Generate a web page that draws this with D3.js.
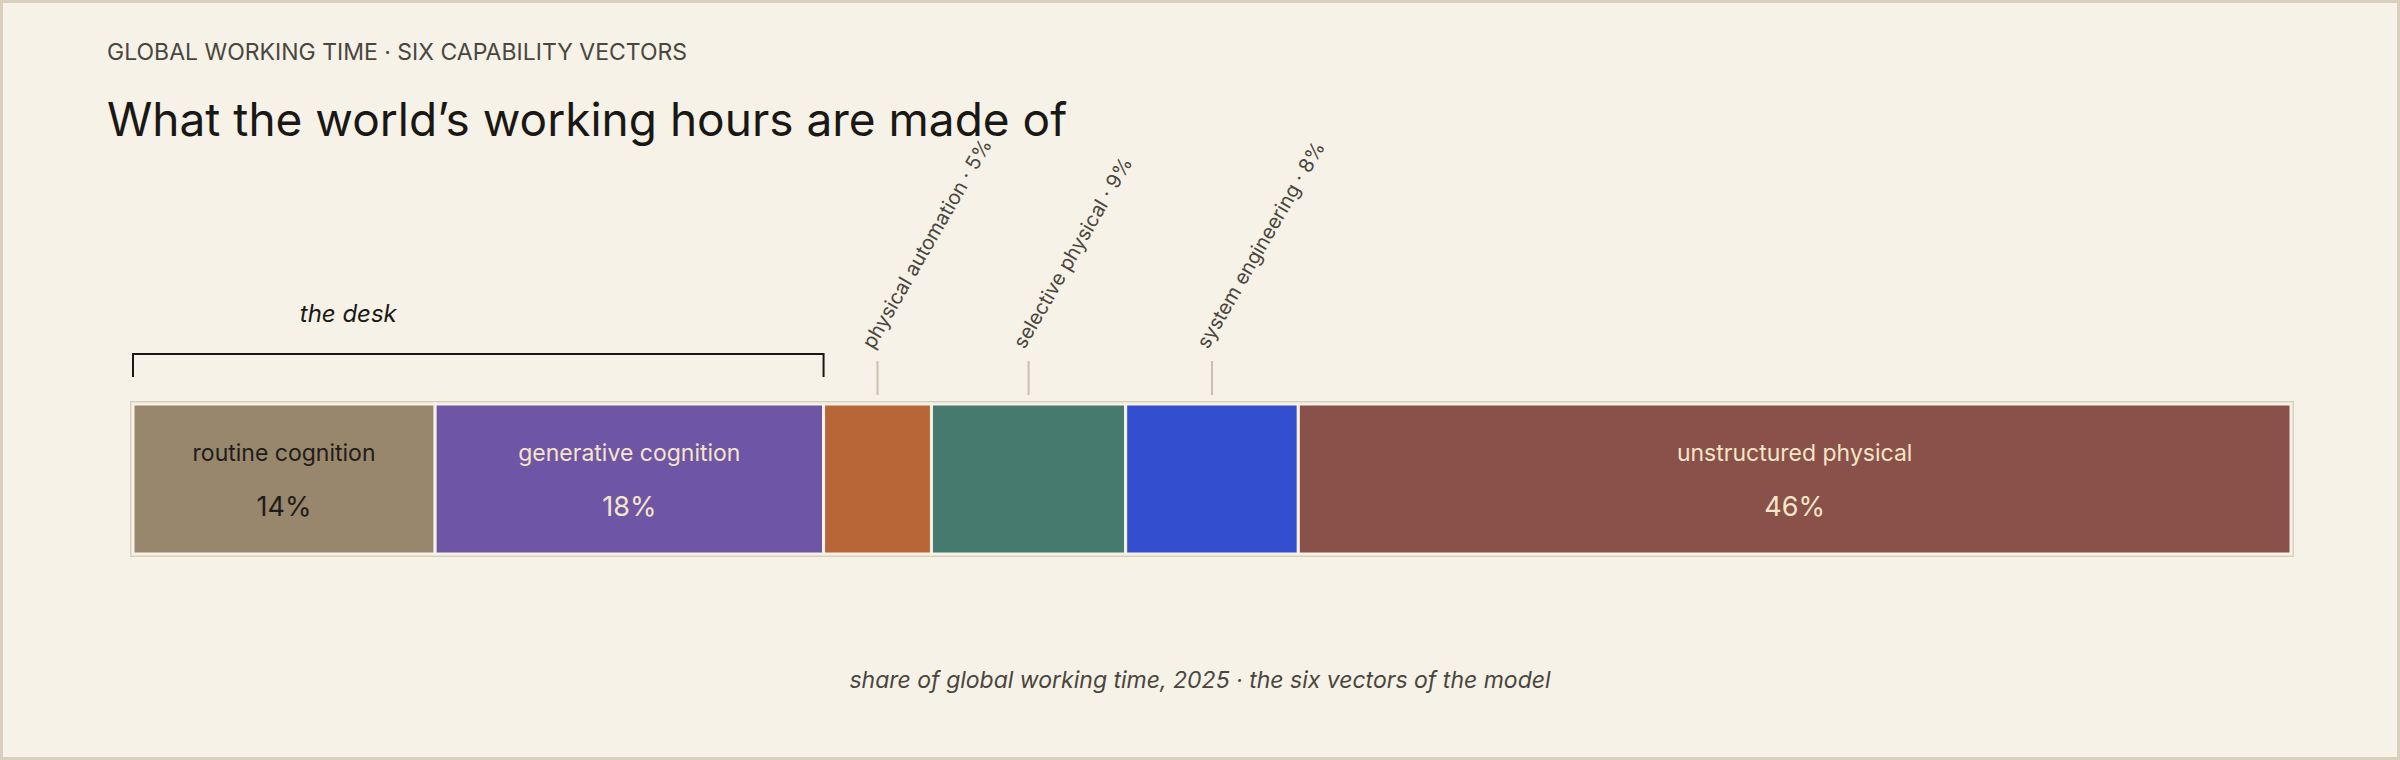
<!DOCTYPE html>
<html>
<head>
<meta charset="utf-8">
<title>What the world's working hours are made of</title>
<script src="https://cdn.jsdelivr.net/npm/d3@7"></script>
<style>
  html, body { margin: 0; padding: 0; background: #f6f2e7; }
  svg { display: block; font-family: Inter, "Noto Sans", sans-serif; }
</style>
</head>
<body>
<div id="chart"></div>
<script>
// data
var categories = ["routine cognition", "generative cognition", "physical automation",
                  "selective physical", "system engineering", "unstructured physical"];
var shares = [14, 18, 5, 9, 8, 46];
var colors = ["#98876c", "#6e55a6", "#b86637", "#477a6e", "#334fcf", "#8a514a"];
var textColors = ["#1f1d1a", "#f5e6c8", "#f5e6c8", "#f5e6c8", "#f5e6c8", "#f5e6c8"];
var insideLabel = [true, true, false, false, false, true];
var deskGroup = ["routine cognition", "generative cognition"];

var W = 2400, H = 760;
var svg = d3.select("#chart").append("svg").attr("width", W).attr("height", H);

svg.append("rect").attr("x", 1.5).attr("y", 1.5).attr("width", W - 3).attr("height", H - 3)
    .attr("fill", "#f6f2e7").attr("stroke", "#d8d0bc").attr("stroke-width", 3);

svg.append("text").attr("x", 107).attr("y", 60).attr("font-size", 23).attr("fill", "#4a463e")
    .text("GLOBAL WORKING TIME · SIX CAPABILITY VECTORS");
svg.append("text").attr("x", 107).attr("y", 136).attr("font-size", 46).attr("fill", "#1a1814")
    .text("What the world’s working hours are made of");

var barTop = 404, barH = 150;
var data = categories.map(function (c, i) { return {name: c, value: shares[i], i: i}; });
var cum = 0;
data.forEach(function (d) { d.x0 = cum; cum += d.value; d.x1 = cum; });

var x = d3.scaleLinear().domain([0, cum]).range([133, 2291]);

svg.append("rect").attr("x", x(0) - 1.5).attr("y", barTop - 1.5)
    .attr("width", x(cum) - x(0) + 3).attr("height", barH + 3)
    .attr("fill", "none").attr("stroke", "#d8d0bc").attr("stroke-width", 3);

var seg = svg.selectAll("g.seg").data(data).enter().append("g").attr("class", "seg");
seg.append("rect")
    .attr("x", function (d) { return x(d.x0); })
    .attr("y", barTop)
    .attr("width", function (d) { return x(d.x1) - x(d.x0); })
    .attr("height", barH)
    .attr("fill", function (d) { return colors[d.i]; })
    .attr("stroke", "#f6f2e7").attr("stroke-width", 3);

var inside = seg.filter(function (d) { return insideLabel[d.i]; });
inside.append("text")
    .attr("x", function (d) { return (x(d.x0) + x(d.x1)) / 2; })
    .attr("y", barTop + 57).attr("text-anchor", "middle").attr("font-size", 23)
    .attr("fill", function (d) { return textColors[d.i]; })
    .text(function (d) { return d.name; });
inside.append("text")
    .attr("x", function (d) { return (x(d.x0) + x(d.x1)) / 2; })
    .attr("y", barTop + 112).attr("text-anchor", "middle").attr("font-size", 27)
    .attr("fill", function (d) { return textColors[d.i]; })
    .text(function (d) { return d.value + "%"; });

// callouts for narrow segments
var outside = data.filter(function (d) { return !insideLabel[d.i]; });
var call = svg.selectAll("g.call").data(outside).enter().append("g").attr("class", "call")
    .attr("transform", function (d) { return "translate(" + ((x(d.x0) + x(d.x1)) / 2) + ",0)"; });
call.append("line").attr("x1", 0).attr("x2", 0).attr("y1", 361).attr("y2", 395)
    .attr("stroke", "#c9c2b2").attr("stroke-width", 2);
call.append("text")
    .attr("transform", "translate(-4,350) rotate(-60)")
    .attr("font-size", 20).attr("fill", "#4a463e")
    .text(function (d) { return d.name + " · " + d.value + "%"; });

// desk bracket
var deskData = data.filter(function (d) { return deskGroup.indexOf(d.name) >= 0; });
var bx0 = x(d3.min(deskData, function (d) { return d.x0; }));
var bx1 = x(d3.max(deskData, function (d) { return d.x1; }));
svg.append("path")
    .attr("d", "M" + bx0 + ",377 V354 H" + bx1 + " V377")
    .attr("fill", "none").attr("stroke", "#1a1814").attr("stroke-width", 2);
svg.append("text").attr("x", (bx0 + bx1) / 2 - 130).attr("y", 322)
    .attr("text-anchor", "middle").attr("font-size", 24).attr("font-style", "italic")
    .attr("fill", "#1a1814").text("the desk");

svg.append("text").attr("x", 1200).attr("y", 688).attr("text-anchor", "middle")
    .attr("font-size", 23).attr("font-style", "italic").attr("fill", "#4a463e")
    .text("share of global working time, 2025 · the six vectors of the model");
</script>
</body>
</html>
